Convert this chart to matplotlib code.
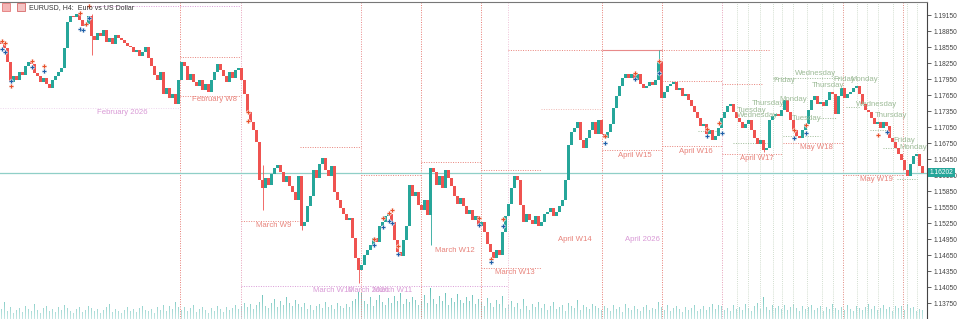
import matplotlib.pyplot as plt
from matplotlib.patches import Rectangle
import numpy as np

plt.rcParams['font.family'] = ['Liberation Sans', 'DejaVu Sans']

# EURUSD H4 closes, one per candle (open = previous close)
first_open = 1.1866
closes = [
    # February W7
    1.1861, 1.1854, 1.1827, 1.1790, 1.1801, 1.1794, 1.1809, 1.1803, 1.1820, 1.1827,
    1.1824, 1.1807, 1.1801, 1.1790, 1.1797, 1.1786, 1.1779, 1.1794, 1.1801, 1.1809,
    1.1816, 1.1854, 1.1902, 1.1914, 1.1912, 1.1917, 1.1906, 1.1895, 1.1899, 1.1914,
    1.1876, 1.1869, 1.1882, 1.1876, 1.1887, 1.1865, 1.1872, 1.1861, 1.1878, 1.1872,
    1.1869, 1.1863, 1.1857, 1.1856, 1.1846, 1.1850, 1.1839, 1.1846, 1.1856, 1.1835,
    1.1820, 1.1803, 1.1794, 1.1809, 1.1767, 1.1779, 1.1760, 1.1767, 1.1749, 1.1794,
    # February W8
    1.1827, 1.1820, 1.1794, 1.1805, 1.1790, 1.1782, 1.1794, 1.1775, 1.1786, 1.1771,
    1.1794, 1.1809, 1.1824, 1.1812, 1.1801, 1.1790, 1.1809, 1.1797, 1.1812, 1.1816,
    # March W9
    1.1794, 1.1767, 1.1734, 1.1715, 1.1700, 1.1677, 1.1606, 1.1591, 1.1610, 1.1597,
    1.1617, 1.1629, 1.1634, 1.1621, 1.1602, 1.1614, 1.1595, 1.1584, 1.1569, 1.1614,
    # March W10
    1.1520, 1.1527, 1.1557, 1.1576, 1.1625, 1.1610, 1.1636, 1.1647, 1.1625, 1.1614,
    1.1632, 1.1584, 1.1569, 1.1554, 1.1542, 1.1531, 1.1535, 1.1497, 1.1460, 1.1437,
    # March W11
    1.1447, 1.1466, 1.1475, 1.1484, 1.1497, 1.1490, 1.1520, 1.1527, 1.1539, 1.1542,
    1.1527, 1.1494, 1.1471, 1.1464, 1.1494, 1.1520, 1.1597, 1.1576, 1.1584, 1.1559,
    # March W12
    1.1550, 1.1569, 1.1541, 1.1629, 1.1621, 1.1597, 1.1614, 1.1591, 1.1625, 1.1610,
    1.1595, 1.1576, 1.1561, 1.1572, 1.1557, 1.1542, 1.1550, 1.1531, 1.1539, 1.1520,
    # March W13
    1.1527, 1.1509, 1.1486, 1.1471, 1.1460, 1.1475, 1.1466, 1.1509, 1.1539, 1.1561,
    1.1591, 1.1614, 1.1606, 1.1559, 1.1527, 1.1542, 1.1531, 1.1524, 1.1539, 1.1520,
    # April W14
    1.1527, 1.1542, 1.1546, 1.1554, 1.1539, 1.1546, 1.1557, 1.1569, 1.1606, 1.1672,
    1.1696, 1.1704, 1.1715, 1.1681, 1.1666, 1.1685, 1.1700, 1.1715, 1.1692, 1.1719,
    # April W15
    1.1692, 1.1685, 1.1696, 1.1711, 1.1741, 1.1764, 1.1782, 1.1797, 1.1805, 1.1797,
    1.1805, 1.1794, 1.1805, 1.1786, 1.1779, 1.1782, 1.1790, 1.1784, 1.1794, 1.1827,
    # April W16
    1.1760, 1.1771, 1.1782, 1.1786, 1.1790, 1.1775, 1.1779, 1.1764, 1.1767, 1.1756,
    1.1745, 1.1734, 1.1722, 1.1707, 1.1711, 1.1692, 1.1700, 1.1681, 1.1689, 1.1704,
    # April W17
    1.1722, 1.1734, 1.1745, 1.1749, 1.1734, 1.1722, 1.1715, 1.1704, 1.1711, 1.1719,
    1.1700, 1.1685, 1.1674, 1.1681, 1.1662, 1.1666, 1.1719, 1.1726, 1.1730, 1.1726,
    # May W18
    1.1737, 1.1756, 1.1734, 1.1719, 1.1700, 1.1689, 1.1685, 1.1700, 1.1711, 1.1737,
    1.1756, 1.1764, 1.1749, 1.1752, 1.1745, 1.1756, 1.1771, 1.1767, 1.1730, 1.1764,
    # May W19
    1.1779, 1.1760, 1.1767, 1.1771, 1.1779, 1.1782, 1.1767, 1.1749, 1.1737, 1.1734,
    1.1722, 1.1711, 1.1715, 1.1704, 1.1715, 1.1707, 1.1685, 1.1677, 1.1666, 1.1655,
    # May W20
    1.1644, 1.1625, 1.1614, 1.1636, 1.1651, 1.1655, 1.1632, 1.1620,
]

volumes = [
    10, 17, 8, 12, 6, 9, 11, 7, 13, 10, 8, 15, 9, 6, 11, 13, 8, 10, 7, 12,
    9, 14, 11, 8, 6, 10, 12, 7, 9, 13, 11, 8, 10, 6, 9, 12, 15, 7, 10, 8,
    6, 9, 12, 8, 10, 7, 11, 13, 9, 8, 10, 6, 12, 9, 14, 8, 13, 10, 17, 12,
    9, 12, 8, 11, 14, 7, 10, 12, 9, 6, 11, 8, 13, 10, 7, 12, 9, 11, 14, 10,
    13, 16, 12, 15, 10, 14, 17, 24, 13, 11, 16, 20, 12, 18, 14, 22, 16, 13, 19, 15,
    12, 16, 10, 14, 9, 13, 15, 11, 17, 12, 14, 10, 16, 13, 11, 15, 12, 18, 20, 27,
    26, 18, 15, 22, 13, 19, 24, 17, 14, 21, 16, 23, 18, 26, 15, 20, 17, 22, 19, 14,
    18, 24, 16, 31, 20, 15, 23, 18, 26, 14, 21, 17, 25, 19, 16, 22, 18, 24, 15, 20,
    17, 13, 21, 16, 12, 19, 15, 23, 11, 14, 18, 12, 16, 10, 20, 13, 9, 15, 12, 17,
    11, 15, 9, 13, 17, 10, 12, 14, 8, 16, 13, 11, 19, 9, 14, 12, 10, 15, 13, 11,
    9, 13, 11, 8, 14, 10, 12, 7, 15, 11, 9, 13, 10, 8, 12, 14, 9, 11, 10, 17,
    12, 9, 14, 8, 11, 13, 10, 7, 12, 9, 11, 14, 8, 10, 13, 9, 12, 15, 10, 14,
    13, 9, 11, 8, 14, 10, 12, 9, 15, 11, 8, 13, 16, 10, 22, 12, 9, 14, 11, 13,
    10, 14, 9, 12, 15, 11, 8, 13, 10, 12, 14, 9, 11, 13, 8, 12, 10, 15, 11, 9,
    12, 9, 14, 10, 8, 13, 11, 9, 12, 15, 10, 13, 9, 11, 14, 10, 12, 8, 13, 11,
    13, 9, 15, 11, 12, 8, 10, 9,
]

# long shadows worth drawing
wick_idx = [30, 87, 100, 119, 143, 219, 254]
wick_hi = [1.1917, 1.1634, 1.1557, 1.1452, 1.1629, 1.1850, 1.1681]
wick_lo = [1.1840, 1.1550, 1.1512, 1.1413, 1.1484, 1.1805, 1.1659]

# signal arrows
sell_idx = [0, 1, 3, 10, 14, 26, 28, 29, 82, 82, 124, 127, 129, 130, 132, 159, 163, 167,
            201, 211, 219, 235, 239, 264, 268, 292]
sell_px = [1.1867, 1.1863, 1.1782, 1.1829, 1.1820, 1.1919, 1.1899, 1.1932, 1.1734, 1.1717,
           1.1496, 1.1535, 1.1544, 1.1550, 1.1482, 1.1535, 1.1458, 1.1533,
           1.1689, 1.1807, 1.1829, 1.1702, 1.1713, 1.1700, 1.1709, 1.1691]
buy_idx = [0, 1, 3, 10, 14, 26, 27, 29, 124, 127, 129, 130, 132, 159, 163, 167,
           201, 211, 219, 235, 240, 264, 268, 295]
buy_px = [1.1852, 1.1846, 1.1792, 1.1818, 1.1811, 1.1889, 1.1887, 1.1910,
          1.1484, 1.1518, 1.1529, 1.1526, 1.1467, 1.1522, 1.1452, 1.1520,
          1.1676, 1.1796, 1.1807, 1.1689, 1.1694, 1.1685, 1.1694, 1.1696]

price_ticks = [1.19150, 1.18850, 1.18550, 1.18250, 1.17950, 1.17650, 1.17350, 1.17050,
               1.16750, 1.16450, 1.16150, 1.15850, 1.15550, 1.15250, 1.14950, 1.14650,
               1.14350, 1.14050, 1.13750]
last_price = 1.16202

UP = '#26a69a'
DOWN = '#ef5350'
WEEK = '#e8827a'
MONTH = '#d99ad6'
DAY = '#9dbb97'


def at(px, py):
    # screen pixel -> data coordinates
    return px / 3 - 0.5, 1.19437 - 0.0001875 * py


n = len(closes)
idx = np.arange(n)
c = np.array(closes)
o = np.concatenate([[first_open], c[:-1]])
col = [UP if cc >= oo else DOWN for oo, cc in zip(o, c)]

fig = plt.figure(figsize=(9.6, 3.19), dpi=100, facecolor='white')
W = 927 / 960

vax = fig.add_axes([0, 0, W, 40 / 319])
vax.bar(idx, volumes, width=0.5, color=UP, alpha=0.9, linewidth=0)
grad = np.zeros((40, 1, 4))
grad[..., :3] = 1
grad[:, 0, 3] = np.linspace(0.7, 0, 40)
vax.imshow(grad, extent=(-0.5, n + 0.5, 0, 40), origin='lower', aspect='auto', zorder=3)
vax.set_xlim(-0.5, 308.5)
vax.set_ylim(0, 40)
vax.axis('off')

ax = fig.add_axes([0, 0, W, 317 / 319])
ax.patch.set_alpha(0)
ax.set_xlim(-0.5, 308.5)
ax.set_ylim(1.13456, 1.19400)

# week / month / day separators
for p, cl in [(180, '#e77b73'), (241, '#e6a0b8'), (361, '#e88a8a'), (421, '#e77b73'),
              (481, '#e77b73'), (508, '#efc2d8'), (602, '#e77b73'), (662, '#e77b73'),
              (722, '#e6a0b8'), (843, '#e08a80'), (903, '#e08a80')]:
    ax.axvline(at(p, 0)[0], color=cl, lw=0.7, ls=(0, (1, 1.5)), zorder=1)
for p in [737, 748, 760, 773, 782, 793, 807, 822, 833, 857, 867, 878, 893, 907, 917]:
    ax.axvline(at(p, 0)[0], color='#c3d3bf', lw=0.6, ls=(0, (1, 1.5)), zorder=1)

# range boxes
for x0, x1, y, cl in [(90, 240, 6, MONTH), (0, 180, 108, '#eed6ee'), (241, 508, 286, MONTH),
                      (508, 770, 50, WEEK), (180, 241, 57, WEEK), (180, 241, 96, WEEK),
                      (241, 300, 221, WEEK), (300, 361, 147, WEEK), (361, 421, 175, WEEK),
                      (421, 481, 162, WEEK), (481, 541, 170, WEEK), (481, 541, 268, WEEK),
                      (541, 602, 109, '#efb9b4'), (602, 662, 150, WEEK), (662, 722, 81, WEEK),
                      (662, 722, 146, WEEK), (722, 763, 84, WEEK), (722, 782, 154, WEEK),
                      (783, 843, 143, WEEK), (843, 903, 175, WEEK),
                      (773, 840, 78, DAY), (820, 837, 118, DAY), (783, 820, 136, DAY),
                      (846, 860, 107, DAY), (870, 887, 130, DAY), (883, 900, 148, DAY),
                      (897, 917, 179, DAY), (698, 717, 131, DAY), (733, 770, 143, DAY)]:
    xa, ya = at(x0, y)
    xb, _ = at(x1, y)
    ax.hlines(ya, xa, xb, color=cl, lw=0.7, ls=(0, (1, 1.5)), zorder=1)
xa, ya = at(602, 50)
xb, _ = at(662, 50)
ax.hlines(ya, xa, xb, color='#e88a8a', lw=0.8, zorder=1)

ax.axhline(last_price, color='#8fcfc7', lw=0.9, zorder=2)

# candles
ax.vlines(np.array(wick_idx), wick_lo, wick_hi, color=[col[i] for i in wick_idx], lw=0.6, zorder=3)
h = c - o
h = np.where(np.abs(h) < 0.00008, 0.00008, h)
ax.bar(idx, h, bottom=o, width=0.75, color=col, linewidth=0, zorder=4)

ax.plot(sell_idx, sell_px, 'P', ms=3.4, color='#e8502a', mec='white', mew=0.3, zorder=5)
ax.plot(buy_idx, buy_px, 'P', ms=3.4, color='#1f5fa8', mec='white', mew=0.3, zorder=5)

labels = [
    ('February 2026', 97, 112, MONTH), ('February W8', 192, 99, WEEK),
    ('March W9', 256, 225, WEEK), ('March W10', 313, 290, MONTH),
    ('March 2026', 348, 290, MONTH), ('March W11', 373, 290, MONTH),
    ('March W12', 435, 250, WEEK), ('March W13', 495, 272, WEEK),
    ('April W14', 558, 239, WEEK), ('April 2026', 625, 239, MONTH),
    ('April W15', 618, 155, WEEK), ('April W16', 679, 151, WEEK),
    ('April W17', 740, 158, WEEK), ('May W18', 800, 147, WEEK),
    ('May W19', 860, 179, WEEK),
    ('Tuesday', 737, 110, DAY), ('Wednesday', 737, 115, DAY),
    ('Thursday', 752, 103, DAY), ('Monday', 779, 99, DAY),
    ('Friday', 773, 80, DAY), ('Wednesday', 795, 73, DAY),
    ('Thursday', 812, 85, DAY), ('Tuesday', 792, 118, DAY),
    ('Friday', 833, 79, DAY), ('Monday', 850, 79, DAY),
    ('Wednesday', 856, 104, DAY), ('Thursday', 875, 115, DAY),
    ('Friday', 893, 140, DAY), ('Monday', 899, 147, DAY),
]
for t, px, py, cl in labels:
    x, y = at(px, py)
    ax.text(x, y, t, color=cl, fontsize=5.6, ha='left', va='center', zorder=6)

# price scale
ax.yaxis.tick_right()
ax.set_yticks(price_ticks)
ax.set_yticklabels([f'{v:.5f}' for v in price_ticks])
ax.tick_params(axis='y', direction='out', length=3, width=0.6, labelsize=4.8,
               colors='#444444', pad=1.5)
ax.set_xticks([])
for s in ['left', 'bottom']:
    ax.spines[s].set_visible(False)
ax.spines['right'].set_color('#444444')
ax.spines['right'].set_linewidth(0.8)
ax.spines['top'].set_color('#777777')
ax.spines['top'].set_linewidth(0.8)

ax.text(1.003, last_price, f'{last_price:.5f}', transform=ax.get_yaxis_transform(),
        ha='left', va='center', fontsize=4.8, color='white', zorder=10, clip_on=False,
        bbox=dict(boxstyle='square,pad=0.2', fc=UP, ec='none'))

# header
fig.patches.append(Rectangle((2 / 960, 1 - 11 / 319), 8 / 960, 8 / 319, transform=fig.transFigure,
                             fc='#f4b6b6', ec='#e06666', lw=0.5))
fig.patches.append(Rectangle((17 / 960, 1 - 11 / 319), 8 / 960, 8 / 319, transform=fig.transFigure,
                             fc='#f4c4c4', ec='#d05050', lw=0.5))
fig.text(29 / 960, 1 - 8 / 319, 'EURUSD, H4:  Euro vs US Dollar', fontsize=5, color='#333333',
         va='center')

fig.savefig('out.png', dpi=100, facecolor='white')
